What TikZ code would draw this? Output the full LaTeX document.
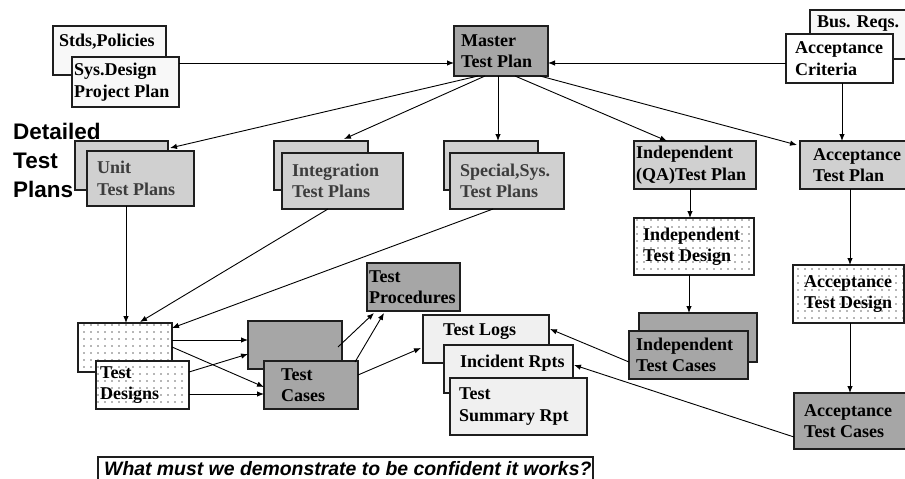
\documentclass[tikz,border=0pt]{standalone}
\usepackage{fontspec}
\setmainfont{Liberation Serif}
\newfontfamily\arialf{Liberation Sans}
\usetikzlibrary{calc,arrows.meta,patterns.meta}
\definecolor{cdark}{RGB}{166,166,166}
\definecolor{cmid}{RGB}{208,208,208}
\definecolor{clight}{RGB}{248,248,248}
\definecolor{clog}{RGB}{240,240,240}
\definecolor{cline}{RGB}{30,30,30}
\definecolor{ctxtg}{RGB}{60,60,60}
\definecolor{cdot}{RGB}{110,110,110}
\newcommand\bx[6]{\pgfmathsetmacro\bw{#4-#2}\pgfmathsetmacro\bh{#5-#3}%
  \node[box,#6,minimum width=\bw pt,minimum height=\bh pt,anchor=north west] (#1) at (#2,#3) {};}
\tikzset{
  box/.style={draw=cline,line width=1.1pt,inner sep=0pt,outer sep=0pt},
  dk/.style={fill=cdark},
  md/.style={fill=cmid},
  lt/.style={fill=clight},
  wh/.style={fill=white},
  lg/.style={fill=clog},
  dotbox/.style={preaction={fill=white},pattern={Dots[distance=7pt,radius=0.8pt]},pattern color=cdot},
  lbl/.style={font=\fontsize{18}{21.5}\selectfont\bfseries,align=left,inner sep=0pt},
  arr/.style={draw=black,line width=0.9pt,-{Latex[length=7pt,width=5.5pt]}},
}
\begin{document}
\begin{tikzpicture}[x=1pt,y=-1pt]
\path[use as bounding box,clip] (0,0) rectangle (905,479);
% top row
\bx{stds}{53}{26}{166}{75}{lt}
\bx{sys}{72}{57}{179}{107}{lt}
\bx{master}{454}{26}{548}{76}{dk}
\bx{bus}{810}{10}{912}{59}{lt}
\bx{accrit}{786}{34}{893}{83}{wh}
% detailed plans
\bx{unitb}{75}{141}{168}{190}{md}
\bx{unit}{87}{151}{194}{206}{md}
\bx{intb}{274}{141}{368}{190}{md}
\bx{int}{282}{153}{403}{209}{md}
\bx{specb}{444}{141}{538}{190}{md}
\bx{spec}{450}{153}{564}{209}{md}
\bx{indqa}{634}{141}{756}{189}{md}
\bx{atp}{800}{141}{912}{189}{md}
% designs
\bx{itd}{634}{218}{754}{275}{dotbox}
\bx{atd}{793}{265}{904}{323}{dotbox}
\bx{itcb}{639}{313}{757}{362}{dk}
\bx{itc}{629}{331}{748}{379}{dk}
\bx{atc}{794}{393}{912}{449}{dk}
\bx{tdb}{78}{323}{172}{372}{dotbox}
\bx{td}{96}{361}{189}{409}{dotbox}
\bx{tcb}{248}{321}{342}{369}{dk}
\bx{tc}{264}{361}{358}{409}{dk}
\bx{proc}{367}{263}{460}{311}{dk}
\bx{logs}{423}{315}{549}{363}{lg}
\bx{inc}{444}{345}{573}{393}{lg}
\bx{summ}{450}{378}{587}{435}{lg}
\bx{qbox}{98}{457}{593}{500}{wh}
% labels
\node[lbl,anchor=north west] (t-stds) at ([xshift=6pt,yshift=-8pt]stds.north west) {Stds,Policies};
\node[lbl,anchor=west] (t-sys) at ([xshift=2pt]sys.west) {Sys.Design\\Project Plan};
\node[lbl,anchor=west] (t-master) at ([xshift=7pt]master.west) {Master\\Test Plan};
\node[lbl,anchor=north west] (t-bus) at ([xshift=7pt,yshift=-6pt]bus.north west) {Bus. Reqs.};
\node[lbl,anchor=west] (t-accrit) at ([xshift=9pt]accrit.west) {Acceptance\\Criteria};
\node[lbl,anchor=north west,font=\arialf\fontsize{22.5}{29}\selectfont\bfseries] (t-det) at (13,123) {Detailed\\Test\\Plans};
\node[lbl,anchor=west,text=ctxtg] (t-unit) at ([xshift=10pt]unit.west) {Unit\\Test Plans};
\node[lbl,anchor=west,text=ctxtg] (t-int) at ([xshift=10pt]int.west) {Integration\\Test Plans};
\node[lbl,anchor=west,text=ctxtg] (t-spec) at ([xshift=10pt]spec.west) {Special,Sys.\\Test Plans};
\node[lbl,anchor=west] (t-indqa) at ([xshift=2pt]indqa.west) {Independent\\(QA)Test Plan};
\node[lbl,anchor=west] (t-atp) at ([xshift=13pt]atp.west) {Acceptance\\Test Plan};
\node[lbl,anchor=west] (t-itd) at ([xshift=9pt]itd.west) {Independent\\Test Design};
\node[lbl,anchor=west] (t-atd) at ([xshift=11pt]atd.west) {Acceptance\\Test Design};
\node[lbl,anchor=west] (t-itc) at ([xshift=7pt]itc.west) {Independent\\Test Cases};
\node[lbl,anchor=west] (t-atc) at ([xshift=10pt]atc.west) {Acceptance\\Test Cases};
\node[lbl,anchor=west] (t-td) at ([xshift=4pt]td.west) {Test\\Designs};
\node[lbl,anchor=west] (t-tc) at ([xshift=17pt]tc.west) {Test\\Cases};
\node[lbl,anchor=west] (t-proc) at ([xshift=2pt]proc.west) {Test\\Procedures};
\node[lbl,anchor=north west] (t-logs) at ([xshift=20pt,yshift=-9pt]logs.north west) {Test Logs};
\node[lbl,anchor=north west] (t-inc) at ([xshift=16pt,yshift=-10pt]inc.north west) {Incident Rpts};
\node[lbl,anchor=west] (t-summ) at ([xshift=9pt]summ.west) {Test\\Summary Rpt};
\node[lbl,anchor=north west,font=\arialf\fontsize{19.4}{22}\selectfont\bfseries\itshape] (t-q) at ([xshift=6pt,yshift=-4pt]qbox.north west) {What must we demonstrate to be confident it works?};
% connectors
\draw[arr] ($(sys.north east)+(0,6)$) -- ($(master.north west)+(0,37)$);
\draw[arr] ($(accrit.north west)+(0,29)$) -- ($(master.north east)+(0,37)$);
\draw[arr] ($(accrit.south west)+(56,0)$) -- ($(atp.north west)+(42,0)$);
\draw[arr] ($(master.south west)+(24,0)$) -- ($(unitb.north east)+(2,7)$);
\draw[arr] ($(master.south west)+(31,0)$) -- ($(intb.north west)+(70,-2)$);
\draw[arr] ($(master.south west)+(44,0)$) -- ($(specb.north west)+(54,0)$);
\draw[arr] ($(master.south west)+(61,0)$) -- ($(indqa.north west)+(33,0)$);
\draw[arr] ($(master.south east)+(-8,0)$) -- ($(atp.north west)+(-3,4)$);
\draw[arr] ($(indqa.south west)+(56,0)$) -- ($(itd.north west)+(56,0)$);
\draw[arr] ($(itd.south west)+(55,0)$) -- ($(itcb.north west)+(50,0)$);
\draw[arr] ($(atp.south west)+(50,0)$) -- ($(atd.north west)+(57,0)$);
\draw[arr] ($(atd.south west)+(57,0)$) -- ($(atc.north west)+(56,0)$);
\draw[arr] ($(itc.north west)+(0,31)$) -- ($(logs.north east)+(1,14)$);
\draw[arr] ($(atc.north west)+(0,44)$) -- ($(inc.north east)+(1,20)$);
\draw[arr] ($(unit.south west)+(39,0)$) -- ($(tdb.north west)+(48,0)$);
\draw[arr] ($(int.south west)+(46,0)$) -- ($(tdb.north west)+(62,-1)$);
\draw[arr] ($(spec.south west)+(43,0)$) -- ($(tdb.north east)+(0,5)$);
\draw[arr] ($(tdb.north east)+(0,17)$) -- ($(tcb.north west)+(0,19)$);
\draw[arr] ($(tdb.north east)+(0,24)$) -- ($(tc.north west)+(0,26)$);
\draw[arr] ($(td.north east)+(0,11)$) -- ($(tcb.north west)+(0,33)$);
\draw[arr] ($(td.north east)+(0,33)$) -- ($(tc.north west)+(0,33)$);
\draw[arr] ($(tcb.north east)+(-4,26)$) -- ($(proc.south west)+(7,2)$);
\draw[arr] ($(tc.north east)+(-3,1)$) -- ($(proc.south west)+(17,2)$);
\draw[arr] ($(tc.north east)+(0,14)$) -- ($(logs.north west)+(-2,33)$);
\end{tikzpicture}
\end{document}
